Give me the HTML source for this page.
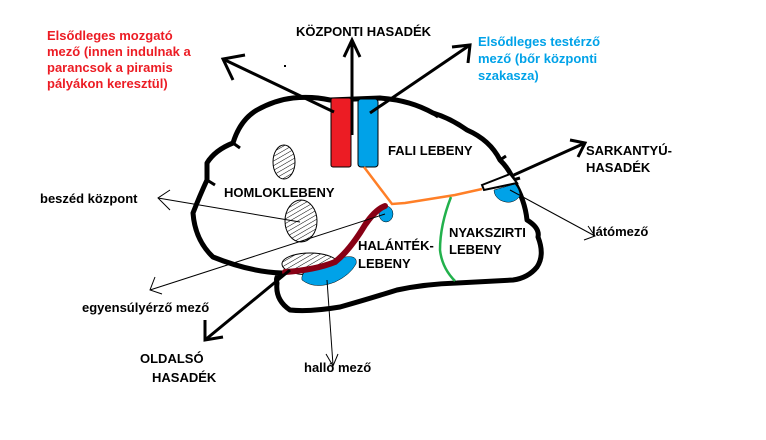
<!DOCTYPE html>
<html><head><meta charset="utf-8"><style>
html,body{margin:0;padding:0;background:#fff;width:766px;height:440px;overflow:hidden}
text{font-family:"Liberation Sans",sans-serif;font-weight:bold;font-size:13px}
</style></head><body>
<svg width="766" height="440" viewBox="0 0 766 440" xmlns="http://www.w3.org/2000/svg">
<defs>
<pattern id="h" width="4" height="4" patternUnits="userSpaceOnUse" patternTransform="rotate(60)">
<rect width="4" height="4" fill="#fff"/><line x1="0" y1="0" x2="0" y2="4" stroke="#000" stroke-width="1"/></pattern>
</defs>
<path d="M293,98 Q312,96 330,100 L380,98 Q410,100 433,113 Q450,118 467,130 Q490,140 500,160 Q510,170 513,180 Q525,200 527,220 Q540,228 538,237 Q545,255 537,267 Q528,278 513,280 L457,283 Q425,284 397,290 Q365,300 340,307 Q310,312 290,310 Q275,300 277,283 Q275,276 282,273 Q250,272 213,257 Q195,240 193,213 Q200,195 207,180 L207,163 Q215,150 233,143 Q240,120 257,110 Q275,100 293,98 Z" fill="none" stroke="#000" stroke-width="5" stroke-linejoin="round"/>
<path d="M233,143 L240,148 M207,180 L215,185 M500,160 L506,156 M513,180 L520,178 M432,113 L438,117" stroke="#000" stroke-width="3"/>
<rect x="331" y="98" width="20" height="69" rx="2" fill="#ec1c24" stroke="#000" stroke-width="1"/>
<rect x="358" y="99" width="20" height="68" rx="3" fill="#00a2e8" stroke="#000" stroke-width="1"/>
<polyline points="364,167 392,204 405,203 430,199 455,195 482,189" fill="none" stroke="#ff7f27" stroke-width="2.5"/>
<path d="M451,197 Q440,225 440,250 Q442,268 455,281" fill="none" stroke="#22b14c" stroke-width="2.5"/>
<ellipse cx="284" cy="162" rx="11" ry="17" fill="url(#h)" stroke="#000" stroke-width="1"/>
<ellipse cx="301" cy="221" rx="16" ry="21" fill="url(#h)" stroke="#000" stroke-width="1"/>
<ellipse cx="310" cy="264" rx="28" ry="11" fill="url(#h)" stroke="#000" stroke-width="1"/>
<ellipse cx="386" cy="214" rx="7" ry="8" fill="#00a2e8" stroke="#000" stroke-width="0.5"/>
<path d="M302,280 Q300,270 320,265 L345,257 Q358,255 356,264 Q350,275 335,282 Q315,290 302,280 Z" fill="#00a2e8" stroke="#000" stroke-width="0.5"/>
<path d="M494,190 L515,184 Q520,190 520,196 Q512,206 500,200 Q494,196 494,190 Z" fill="#00a2e8" stroke="#000" stroke-width="0.5"/>
<path d="M385,206 Q375,210 365,225 Q350,250 335,262 Q315,270 285,272" fill="none" stroke="#880015" stroke-width="6" stroke-linecap="round"/>
<g stroke="#000" stroke-width="3" fill="none">
<line x1="334" y1="112" x2="225" y2="60"/><polyline points="233,80 223,59 245,55"/>
<line x1="352" y1="135" x2="352" y2="40"/><polyline points="344,57 352,40 360,57"/>
<line x1="370" y1="113" x2="470" y2="45"/><polyline points="452,47 470,45 468,63"/>
<line x1="485" y1="188" x2="585" y2="143"/><polyline points="570,140 585,143 578,157"/>
<line x1="290" y1="270" x2="205" y2="340"/><polyline points="205,320 205,340 223,337"/>
</g>
<path d="M482,185 L510,174 L517,183 L484,190 Z" fill="#fff" stroke="#000" stroke-width="2"/>
<g stroke="#000" stroke-width="1" fill="none">
<line x1="300" y1="222" x2="158" y2="198"/><polyline points="170,190 158,198 170,210"/>
<line x1="385" y1="214" x2="150" y2="290"/><polyline points="155,277 150,290 162,294"/>
<line x1="327" y1="280" x2="333" y2="365"/><polyline points="326,354 333,366 338,354"/>
<line x1="510" y1="190" x2="595" y2="236"/><polyline points="588,226 595,236 584,240"/>
</g>
<rect x="284" y="65" width="2" height="2" fill="#000"/>
<g fill="#ec1c24"><text x="47" y="40">Elsődleges mozgató</text><text x="47" y="56">mező (innen indulnak a</text><text x="47" y="72">parancsok a piramis</text><text x="47" y="88">pályákon keresztül)</text></g>
<g fill="#00a2e8"><text x="478" y="46">Elsődleges testérző</text><text x="478" y="63">mező (bőr központi</text><text x="478" y="80">szakasza)</text></g>
<g fill="#000">
<text x="296" y="36">KÖZPONTI HASADÉK</text>
<text x="388" y="155">FALI LEBENY</text>
<text x="224" y="197">HOMLOKLEBENY</text>
<text x="586" y="155">SARKANTYÚ-</text><text x="586" y="172">HASADÉK</text>
<text x="40" y="203">beszéd központ</text>
<text x="592" y="236">látómező</text>
<text x="449" y="237">NYAKSZIRTI</text><text x="449" y="254">LEBENY</text>
<text x="358" y="250">HALÁNTÉK-</text><text x="358" y="268">LEBENY</text>
<text x="82" y="312">egyensúlyérző mező</text>
<text x="140" y="363">OLDALSÓ</text><text x="152" y="382">HASADÉK</text>
<text x="304" y="372">halló mező</text>
</g>
</svg>
</body></html>
